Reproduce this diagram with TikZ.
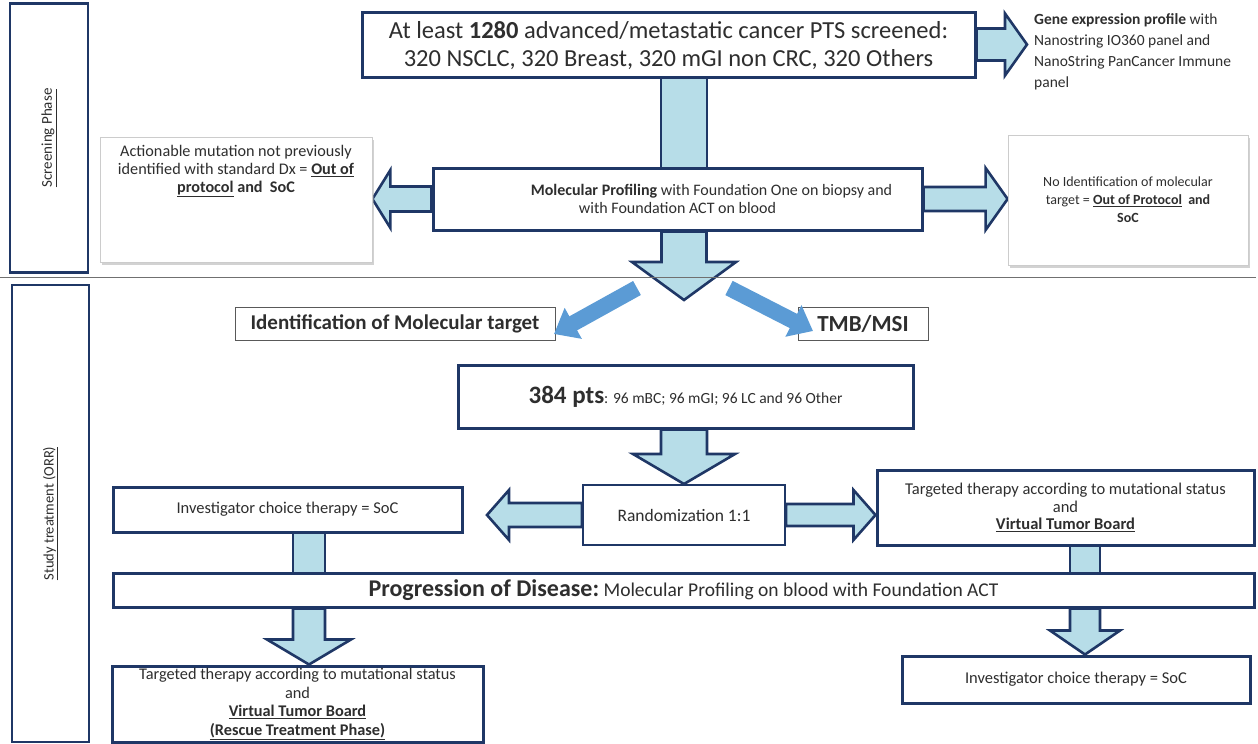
\documentclass[tikz,border=0pt]{standalone}
\usepackage{fontspec}
\setmainfont{Carlito}
\usetikzlibrary{calc,shadows,backgrounds,arrows.meta}

\definecolor{navy}{HTML}{1F3766}
\definecolor{paleblue}{HTML}{B7DDE8}
\definecolor{midblue}{HTML}{5B9BD5}
\definecolor{ink}{HTML}{2E2E2E}
\definecolor{rulegray}{HTML}{707070}

\newcommand\fs[2]{\fontsize{#1}{#2}\selectfont}

\tikzset{
  navybox/.style={draw=navy, line width=3pt, fill=white, inner sep=0pt, align=center, text=ink},
  phasebox/.style={navybox, line width=2.6pt},
  graybox/.style={draw=gray!40, line width=0.8pt, fill=white, inner sep=0pt, align=center, text=ink,
    drop shadow={shadow xshift=2pt, shadow yshift=-3pt, fill=gray!70, opacity=0.5}},
  thinbox/.style={draw=gray!70!black, line width=0.8pt, fill=white, inner sep=0pt, align=center, text=ink},
  blk/.style={fill=paleblue, draw=navy, line width=2.6pt, line join=miter},
  diag/.style={draw=midblue, line width=16pt, -{Triangle[width=34pt,length=22pt]}},
}

% downward block arrow: x, source anchor, target anchor, shaft half width, head half width, head length
\newcommand\vblk[6]{%
  \path[blk] let \p1=(#2), \p2=(#3) in
    ({#1pt-#4pt},\y1) -- ({#1pt-#4pt},{\y2+#6pt}) -- ({#1pt-#5pt},{\y2+#6pt}) -- (#1pt,\y2)
    -- ({#1pt+#5pt},{\y2+#6pt}) -- ({#1pt+#4pt},{\y2+#6pt}) -- ({#1pt+#4pt},\y1) -- cycle;}
% plain vertical shaft: x, source anchor, target anchor, half width
\newcommand\vshaft[4]{%
  \path[fill=paleblue] let \p1=(#2), \p2=(#3) in ({#1pt-#4pt},\y1) rectangle ({#1pt+#4pt},\y2);
  \draw[navy, line width=2.6pt] let \p1=(#2), \p2=(#3) in
    ({#1pt-#4pt},\y1) -- ({#1pt-#4pt},\y2) ({#1pt+#4pt},\y1) -- ({#1pt+#4pt},\y2);}
% horizontal block arrow: source anchor, target anchor, shaft half width, head half width, signed head length
\newcommand\hblk[5]{%
  \path[blk] let \p1=(#1), \p2=(#2) in
    (\x1,{\y1+#3pt}) -- ({\x2-(#5pt)},{\y1+#3pt}) -- ({\x2-(#5pt)},{\y1+#4pt}) -- (\x2,\y1)
    -- ({\x2-(#5pt)},{\y1-#4pt}) -- ({\x2-(#5pt)},{\y1-#3pt}) -- (\x1,{\y1-#3pt}) -- cycle;}

\begin{document}
\begin{tikzpicture}[x=1pt,y=-1pt]
\useasboundingbox (0,0) rectangle (1258,744);

% phase frames
\node[phasebox, minimum width=78pt, minimum height=269pt, font=\fs{15}{17}] (scr) at (49,138)
  {\rotatebox{90}{\underline{Screening Phase}}};
\node[phasebox, minimum width=77pt, minimum height=457pt, font=\fs{14.5}{17}] (stu) at (50.5,513.5)
  {\rotatebox{90}{\underline{Study treatment (ORR)}}};

% separator between the two phases
\coordinate (sepL) at (0,277);
\coordinate (sepR) at (1256,277);
\draw[rulegray, line width=0.9pt] (sepL) -- (sepR);

% screening phase
\node[navybox, minimum width=613pt, minimum height=65pt, font=\fs{24.5}{28}] (top) at (668.5,44.5)
  {\rule{0pt}{20pt}At least \textbf{1280} advanced/metastatic cancer PTS screened:\\
   320 NSCLC, 320 Breast, 320 mGI non CRC, 320 Others};
\node[anchor=north west, align=left, text=ink, inner sep=0pt, font=\fs{15.5}{21}] (gene) at (1034,13)
  {\textbf{Gene expression profile} with\\ Nanostring IO360 panel and\\ NanoString PanCancer Immune\\ panel};
\coordinate (geneTip) at (1027,44.5);

\node[navybox, minimum width=489pt, minimum height=62pt, font=\fs{16}{18.5}] (mp) at (677.5,199)
  {\hspace*{68pt}\textbf{Molecular Profiling} with Foundation One on biopsy and\\ with Foundation ACT on blood};

\node[graybox, minimum width=272pt, minimum height=125pt] (lgray) at (236,199.5) {};
\node[inner sep=0pt, align=center, text=ink, font=\fs{16.2}{17.8}] (lgtxt) at (236,171)
  {Actionable mutation not previously\\ identified with standard Dx = \underline{\textbf{Out of}}\\
   \textbf{\underline{protocol} and\ \ SoC}};
\node[graybox, minimum width=240pt, minimum height=130pt, font=\fs{14}{18}] (rgray) at (1128,200)
  {No Identification of molecular\\ target = \underline{\textbf{Out of Protocol}}\ \ \textbf{and}\\ \textbf{SoC}};

\coordinate (split) at (684,300);

% study treatment phase
\node[thinbox, minimum width=320pt, minimum height=33pt, font=\fs{21}{24}\bfseries] (idt) at (395,323.5)
  {Identification of Molecular target};
\node[thinbox, minimum width=130pt, minimum height=33pt, font=\fs{23}{24}\bfseries] (tmb) at (863,323.5)
  {TMB/MSI};
\coordinate (dlS) at (637,288);
\coordinate (dlE) at (554,334);
\coordinate (drS) at (729,288);
\coordinate (drE) at (813,331);

\node[navybox, minimum width=455pt, minimum height=63pt] (pts) at (685.5,396.5)
  {{\fs{25}{27}\textbf{384 pts}}{\fs{15.5}{18}: 96 mBC; 96 mGI; 96 LC and 96 Other}};

\node[navybox, line width=2pt, minimum width=202pt, minimum height=60pt, font=\fs{17.5}{20}] (rand) at (684,515)
  {Randomization 1:1};
\node[navybox, minimum width=349pt, minimum height=45pt, font=\fs{16.5}{19}] (linv) at (287.5,509.5)
  {Investigator choice therapy = SoC};
\coordinate (linvTip) at (487,512);
\node[navybox, minimum width=377pt, minimum height=75pt, font=\fs{16.5}{17.5}] (rtgt) at (1065.5,507.5)
  {Targeted therapy according to mutational status\\ and\\ \underline{\textbf{Virtual Tumor Board}}};

\node[navybox, minimum width=1141pt, minimum height=34pt] (prog) at (683.5,590)
  {{\fs{24}{26}\textbf{Progression of Disease:}}{\fs{19.5}{22}\ Molecular Profiling on blood with Foundation ACT}};

\node[navybox, minimum width=371pt, minimum height=76pt, font=\fs{16.3}{18.5}] (lbot) at (297.5,704)
  {Targeted therapy according to mutational status\\ and\\ \underline{\textbf{Virtual Tumor Board}}\\
   \underline{\textbf{(Rescue Treatment Phase)}}};
\node[navybox, minimum width=348pt, minimum height=47pt, font=\fs{16.5}{19}] (rbot) at (1076,679.5)
  {Investigator choice therapy = SoC};

% connectors
\begin{pgfonlayer}{background}
  \hblk{top.east}{geneTip}{16}{31}{22}
  \vshaft{684}{top.south}{mp.north}{23}
  \hblk{mp.west}{lgray.east}{12.5}{29}{-18}
  \hblk{mp.east}{rgray.west}{12}{31}{22}
  \vblk{684}{mp.south}{split}{22.5}{52}{38}
  \vblk{684}{pts.south}{rand.north}{23}{51}{30}
  \hblk{rand.west}{linvTip}{12}{25}{-22}
  \hblk{rand.east}{rtgt.west}{11}{25}{22}
  \vshaft{309}{linv.south}{prog.north}{16}
  \vshaft{1085}{rtgt.south}{prog.north}{15}
  \vblk{309}{prog.south}{lbot.north}{16}{42}{25}
  \vblk{1085}{prog.south}{rbot.north}{15}{35}{24}
\end{pgfonlayer}
\draw[diag] (dlS) -- (dlE);
\draw[diag] (drS) -- (drE);
\end{tikzpicture}
\end{document}
